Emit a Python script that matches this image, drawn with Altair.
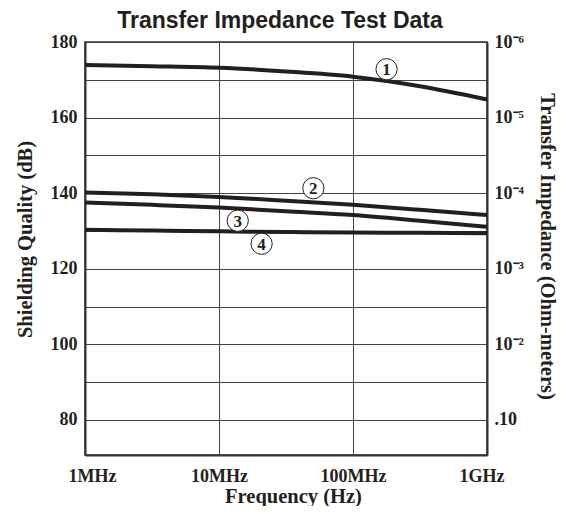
import altair as alt
import pandas as pd

# ---- data ----
freq_mhz = [1, 3.16, 10, 31.6, 100, 316, 1000]
curve_1 = [173.9, 173.6, 173.2, 172.2, 170.8, 168.3, 164.8]
curve_2 = [140.2, 139.7, 139.0, 138.0, 136.9, 135.6, 134.2]
curve_3 = [137.5, 136.9, 136.2, 135.2, 134.2, 132.7, 131.1]
curve_4 = [130.3, 130.1, 129.9, 129.7, 129.6, 129.5, 129.4]
curve_names = ["1", "2", "3", "4"]

label_freq_mhz = [178, 50.6, 13.8, 20.8]
label_db = [172.8, 141.3, 132.7, 126.6]

x_ticks = [1e6, 1e7, 1e8, 1e9]
x_tick_labels = ["1MHz", "10MHz", "100MHz", "1GHz"]
left_grid = [80, 90, 100, 110, 120, 130, 140, 150, 160, 170, 180]
right_ticks = [80, 100, 120, 140, 160, 180]
right_tick_labels = [".10", "10\u207b\u00b2", "10\u207b\u00b3", "10\u207b\u2074", "10\u207b\u2075", "10\u207b\u2076"]

# ---- tables ----
rows = []
for name, vals in zip(curve_names, [curve_1, curve_2, curve_3, curve_4]):
    for f, v in zip(freq_mhz, vals):
        rows.append({"curve": name, "freq": f * 1e6, "db": v})
lines_df = pd.DataFrame(rows)
labels_df = pd.DataFrame({"curve": curve_names,
                          "freq": [f * 1e6 for f in label_freq_mhz],
                          "db": label_db})


def expr_map(vals, labels):
    parts = [f"datum.value == {v} ? '{l}'" for v, l in zip(vals, labels)]
    return " : ".join(parts) + " : ''"


INK = "#231f20"
SERIF = "Liberation Serif"
DOMAIN_Y = [70.7, 180]

x_enc = alt.X("freq:Q",
              scale=alt.Scale(type="log", domain=[1e6, 1e9], nice=False),
              axis=alt.Axis(values=x_ticks, labelExpr=expr_map(x_ticks, x_tick_labels),
                            grid=True, gridColor="#444", gridWidth=1,
                            ticks=False, tickSize=0,
                            domain=True, domainColor="#333", domainWidth=2,
                            labelFont=SERIF, labelFontWeight="bold", labelFontSize=18,
                            labelColor=INK, labelPadding=12, labelOverlap=False,
                            labelFlush=True, labelFlushOffset=17,
                            title="Frequency (Hz)", titleFont=SERIF, titleFontWeight="bold",
                            titleFontSize=20.5, titleColor=INK, titleX=208, titleY=47,
                            titleAlign="center", titleBaseline="alphabetic"))

lines = alt.Chart(lines_df).mark_line(strokeWidth=4, color=INK, interpolate="monotone").encode(
    x=x_enc,
    y=alt.Y("db:Q",
            scale=alt.Scale(domain=DOMAIN_Y, nice=False, zero=False),
            axis=alt.Axis(orient="left", values=left_grid,
                          labelExpr="datum.value % 20 == 0 ? datum.label : ''",
                          grid=True, gridColor="#444", gridWidth=1,
                          ticks=False, tickSize=0,
                          domain=True, domainColor="#333", domainWidth=2,
                          labelFont=SERIF, labelFontWeight="bold", labelFontSize=18,
                          labelColor=INK, labelPadding=8, labelOverlap=False,
                          title="Shielding Quality (dB)", titleFont=SERIF, titleFontWeight="bold",
                          titleFontSize=20.5, titleColor=INK, titleAngle=-90,
                          titleX=-54, titleY=197, titleAlign="center",
                          titleBaseline="alphabetic")),
    detail="curve:N",
)

y_right = alt.Y("db:Q",
                scale=alt.Scale(domain=DOMAIN_Y, nice=False, zero=False),
                axis=alt.Axis(orient="right", values=right_ticks,
                              labelExpr=expr_map(right_ticks, right_tick_labels),
                              grid=False, ticks=False, tickSize=0,
                              domain=True, domainColor="#333", domainWidth=2,
                              labelFont=SERIF, labelFontWeight="bold", labelFontSize=18,
                              labelColor=INK, labelPadding=7, labelOverlap=False,
                              title="Transfer Impedance (Ohm-meters)", titleFont=SERIF,
                              titleFontWeight="bold", titleFontSize=20.5, titleColor=INK,
                              titleAngle=90, titleX=53, titleY=204, titleAlign="center",
                              titleBaseline="alphabetic"))

circles = alt.Chart(labels_df).mark_point(
    shape="circle", size=450, filled=True, fill="white", stroke=INK, strokeWidth=1, opacity=1
).encode(x="freq:Q", y=y_right)

nums = alt.Chart(labels_df).mark_text(
    font=SERIF, fontWeight="bold", fontSize=17, color=INK, baseline="middle", dy=1
).encode(x="freq:Q", y="db:Q", text="curve:N")

chart = alt.layer(lines, alt.layer(circles, nums)).resolve_scale(y="independent").properties(
    width=402, height=413,
    autosize=alt.AutoSizeParams(type="none"),
    padding={"left": 77, "top": 34, "right": 71, "bottom": 51},
    background="white",
    title=alt.TitleParams("Transfer Impedance Test Data", font="Liberation Sans",
                          fontWeight="bold", fontSize=23, color=INK, anchor="middle",
                          dx=-6, offset=-18, baseline="alphabetic"),
).configure_view(stroke="#333", strokeWidth=1.5)

chart.save("out.html", embed_options={"renderer": "svg", "actions": False})
